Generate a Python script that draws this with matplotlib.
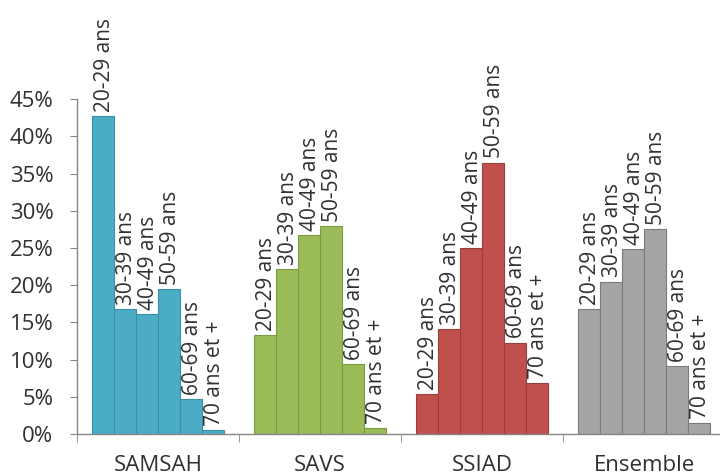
import matplotlib
matplotlib.use("Agg")
import matplotlib.pyplot as plt
import numpy as np
from matplotlib.ticker import FixedLocator, PercentFormatter

plt.rcParams['font.family'] = ['Open Sans', 'DejaVu Sans']

categories = ["SAMSAH", "SAVS", "SSIAD", "Ensemble"]
age_groups = ["20-29 ans", "30-39 ans", "40-49 ans", "50-59 ans", "60-69 ans", "70 ans et +"]
samsah = [42.7, 16.8, 16.1, 19.5, 4.7, 0.5]
savs = [13.3, 22.2, 26.7, 28.0, 9.4, 0.8]
ssiad = [5.4, 14.1, 25.0, 36.5, 12.3, 6.9]
ensemble = [16.8, 20.5, 24.9, 27.6, 9.1, 1.5]
yticks = [0, 5, 10, 15, 20, 25, 30, 35, 40, 45]

series = [samsah, savs, ssiad, ensemble]
fills = ["#4BACC6", "#9BBB59", "#C0504D", "#A5A5A5"]
edges = ["#3A8FA8", "#7A9A45", "#9A3E3B", "#7A7A7A"]

fig = plt.figure(figsize=(7.2, 4.75), dpi=100)
ax = fig.add_axes([77/720, (475-434)/475, 648/720, (434-99.3)/475])

n = len(age_groups)
group_w = 0.815
bw = group_w / n
axis_col = "#868686"
txt_col = "#303030"

for ci, (vals, fc, ec) in enumerate(zip(series, fills, edges)):
    xs = ci - group_w/2 + bw/2 + np.arange(n) * bw
    ax.bar(xs, vals, width=bw, color=fc, edgecolor=ec, linewidth=0.8, zorder=2)
    for x, v, lab in zip(xs, vals, age_groups):
        ax.annotate(lab, (x, v), xytext=(1, 3), textcoords="offset points",
                    rotation=90, ha="center", va="bottom", fontsize=15,
                    color=txt_col, zorder=3)

ax.set_xlim(-0.5, len(categories) - 0.5)
ax.set_ylim(0, 45)
ax.yaxis.set_major_locator(FixedLocator(yticks))
ax.yaxis.set_major_formatter(PercentFormatter(decimals=0))
ax.set_xticks(range(len(categories)))
ax.set_xticklabels(categories)
ax.xaxis.set_minor_locator(FixedLocator(np.arange(-0.5, len(categories), 1.0)))
ax.tick_params(axis="x", which="major", length=0, pad=15, labelsize=16, labelcolor=txt_col)
ax.tick_params(axis="x", which="minor", length=6, color=axis_col, direction="out")
ax.tick_params(axis="y", which="major", length=5, color=axis_col, labelsize=16,
               labelcolor=txt_col, pad=12)

for s in ["top", "right"]:
    ax.spines[s].set_visible(False)
for s in ["left", "bottom"]:
    ax.spines[s].set_color(axis_col)
    ax.spines[s].set_linewidth(1.0)

fig.savefig("out.png", dpi=100)
